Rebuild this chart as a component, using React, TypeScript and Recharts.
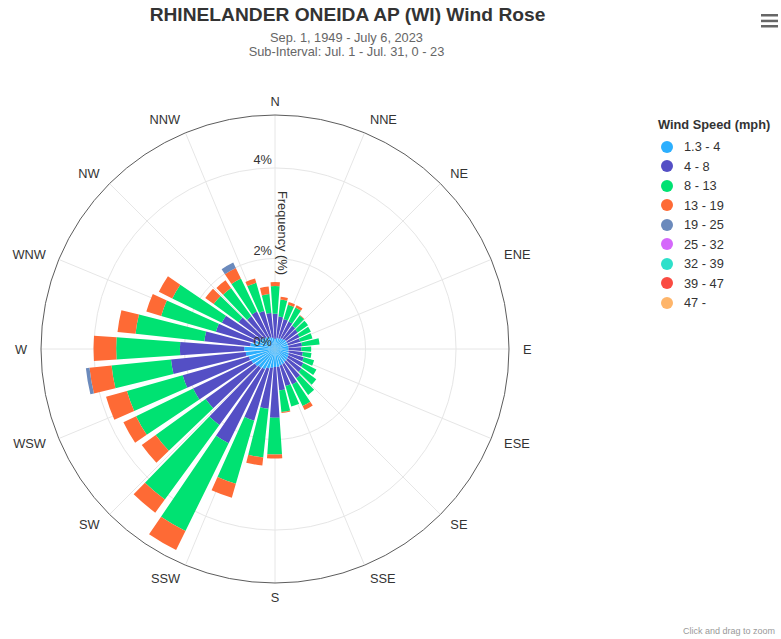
import { RadialBarChart, RadialBar, PolarAngleAxis, PolarRadiusAxis, PolarGrid } from "recharts"

// wind direction bins (degrees, 10° sectors)
const directions = [
  0, 10, 20, 30, 40, 50, 60, 70, 80, 90, 100, 110,
  120, 130, 140, 150, 160, 170, 180, 190, 200, 210, 220, 230,
  240, 250, 260, 270, 280, 290, 300, 310, 320, 330, 340, 350,
]

// frequency (%) per speed class, read from the rose
const speed1to4 = [
  0.22, 0.25, 0.25, 0.27, 0.28, 0.3, 0.3, 0.3, 0.3, 0.3, 0.3, 0.32,
  0.33, 0.35, 0.35, 0.37, 0.38, 0.4, 0.4, 0.42, 0.45, 0.5, 0.52, 0.55,
  0.58, 0.6, 0.65, 0.68, 0.55, 0.45, 0.4, 0.35, 0.32, 0.3, 0.27, 0.25,
]
const speed4to8 = [
  0.56, 0.47, 0.44, 0.41, 0.36, 0.32, 0.3, 0.28, 0.3, 0.28, 0.32, 0.34,
  0.37, 0.38, 0.45, 0.5, 0.47, 0.52, 1.12, 0.91, 1.2, 1.82, 1.56, 1.34,
  1.43, 1.52, 1.66, 1.42, 1.02, 0.91, 0.91, 0.65, 0.57, 0.62, 0.6, 0.55,
]
const speed8to13 = [
  0.61, 0.38, 0.33, 0.34, 0.28, 0.28, 0.28, 0.28, 0.39, 0.22, 0.19, 0.24,
  0.32, 0.4, 0.45, 0.53, 0.47, 0.48, 0.81, 1.08, 1.45, 2.16, 2.04, 1.36,
  1.4, 1.28, 1.32, 1.41, 1.53, 1.26, 1.22, 0.68, 0.77, 0.81, 0.65, 0.42,
]
const speed13to19 = [
  0.09, 0.06, 0.06, 0.06, 0.01, 0, 0, 0, 0, 0, 0, 0,
  0, 0, 0, 0.1, 0, 0.02, 0.09, 0.18, 0.32, 0.47, 0.36, 0.38,
  0.31, 0.48, 0.49, 0.5, 0.4, 0.34, 0.33, 0.23, 0.21, 0.26, 0.1, 0.17,
]
const speed19to25 = [
  0, 0, 0, 0, 0, 0, 0, 0, 0, 0, 0, 0,
  0, 0, 0, 0, 0, 0, 0, 0, 0, 0, 0, 0,
  0, 0, 0.08, 0, 0, 0, 0, 0, 0, 0.13, 0, 0,
]

const speedLabels = ["1.3 - 4", "4 - 8", "8 - 13", "13 - 19", "19 - 25", "25 - 32", "32 - 39", "39 - 47", "47 -"]
const speedColors = ["#2caffe", "#544fc5", "#00e272", "#fe6a35", "#6b8abc", "#d568fb", "#2ee0ca", "#fa4b42", "#feb56a"]

const compassLabels = ["N", "NNE", "NE", "ENE", "E", "ESE", "SE", "SSE", "S", "SSW", "SW", "WSW", "W", "WNW", "NW", "NNW"]
const compassAngles = [0, 22.5, 45, 67.5, 90, 112.5, 135, 157.5, 180, 202.5, 225, 247.5, 270, 292.5, 315, 337.5]
const freqTicks = [0, 2, 4]

const seriesValues = [speed1to4, speed4to8, speed8to13, speed13to19, speed19to25]
const seriesKeys = ["s1", "s2", "s3", "s4", "s5"]

const data = directions.map((d, i) => {
  const row: Record<string, any> = { dir: String(d), deg: d }
  seriesKeys.forEach((k, j) => {
    row[k] = seriesValues[j][i]
  })
  return row
})

// category bands start 5° before their centre, so the compass scale gets the same shift
const compassSpan = (row: any) => [row.deg + 5, row.deg + 15]

const CX = 275
const CY = 349
const R = 234
const font = '"Liberation Sans", Arial, Helvetica, sans-serif'

const CompassTick = (props: any) => {
  const { x, y, payload } = props
  const idx = compassAngles.indexOf(payload.value)
  const dx = x - CX
  const anchor = Math.abs(dx) < 1 ? "middle" : dx > 0 ? "start" : "end"
  return (
    <text x={x} y={y} textAnchor={anchor} dominantBaseline="central" fill="#333333" fontSize={12.8} fontFamily={font}>
      {compassLabels[idx]}
    </text>
  )
}

const FreqTick = (props: any) => {
  const { x, y, payload } = props
  return (
    <text x={x - 3} y={y - 8} textAnchor="end" dominantBaseline="central" fill="#333333" fontSize={12.8} fontFamily={font}>
      {payload.value + "%"}
    </text>
  )
}

export default function App() {
  return (
    <div style={{ position: "absolute", left: 0, top: 0, width: 781, height: 639, background: "#fff", fontFamily: font }}>
      <div style={{ position: "absolute", left: 0, top: 4, width: 695, textAlign: "center", fontSize: 19.2, lineHeight: "22px", fontWeight: "bold", color: "#333333" }}>
        RHINELANDER ONEIDA AP (WI) Wind Rose
      </div>
      <div style={{ position: "absolute", left: 0, top: 31, width: 693, textAlign: "center", fontSize: 12.8, lineHeight: "13px", color: "#666666" }}>
        Sep. 1, 1949 - July 6, 2023
      </div>
      <div style={{ position: "absolute", left: 0, top: 44.5, width: 693, textAlign: "center", fontSize: 12.8, lineHeight: "13px", color: "#666666" }}>
        Sub-Interval: Jul. 1 - Jul. 31, 0 - 23
      </div>

      <RadialBarChart
        width={781}
        height={639}
        cx={CX}
        cy={CY}
        innerRadius={0}
        outerRadius={R}
        startAngle={85}
        endAngle={-275}
        data={data}
        layout="centric"
        barCategoryGap="8%"
        margin={{ top: 0, right: 0, bottom: 0, left: 0 }}
      >
        <PolarGrid gridType="circle" angleAxisId="compass" radiusAxisId="freq" stroke="#e6e6e6" />
        <PolarAngleAxis angleAxisId="cat" dataKey="dir" type="category" tick={false} axisLine={false} tickLine={false} />
        <PolarAngleAxis
          angleAxisId="compass"
          type="number"
          dataKey={compassSpan}
          domain={[5, 365]}
          ticks={compassAngles}
          tick={<CompassTick />}
          tickSize={14}
          tickLine={false}
          axisLine={{ stroke: "#5c5c5c" }}
          axisLineType="circle"
        />
        {seriesKeys.map((k, j) => (
          <RadialBar
            key={k}
            angleAxisId="cat"
            radiusAxisId="freq"
            dataKey={k}
            name={speedLabels[j]}
            stackId="a"
            fill={speedColors[j]}
            isAnimationActive={false}
          />
        ))}
        <PolarRadiusAxis
          radiusAxisId="freq"
          type="number"
          angle={90}
          domain={[0, 5.17]}
          allowDataOverflow
          ticks={freqTicks}
          axisLine={false}
          tickLine={false}
          tick={<FreqTick />}
        />
      </RadialBarChart>

      <div style={{ position: "absolute", left: 282, top: 233, transform: "translate(-50%, -50%) rotate(90deg)", whiteSpace: "nowrap", fontSize: 12.8, color: "#333333" }}>
        Frequency (%)
      </div>

      <div style={{ position: "absolute", left: 658, top: 116, fontSize: 12.8, color: "#333333" }}>
        <div style={{ fontWeight: "bold", lineHeight: "18px", height: 18, marginBottom: 3 }}>Wind Speed (mph)</div>
        {speedLabels.map((l, j) => (
          <div key={l} style={{ display: "flex", alignItems: "center", height: 19.5 }}>
            <span style={{ display: "inline-block", width: 12, height: 12, borderRadius: 6, background: speedColors[j], marginLeft: 3, marginRight: 11 }} />
            <span>{l}</span>
          </div>
        ))}
      </div>

      <svg style={{ position: "absolute", left: 759, top: 12 }} width={20} height={18}>
        <rect x={2} y={2} width={17} height={2.5} fill="#666666" />
        <rect x={2} y={7.7} width={17} height={2.5} fill="#666666" />
        <rect x={2} y={13} width={17} height={2.5} fill="#666666" />
      </svg>

      <div style={{ position: "absolute", left: 683, top: 626, fontSize: 9, color: "#999999", whiteSpace: "nowrap" }}>
        Click and drag to zoom
      </div>
    </div>
  )
}
